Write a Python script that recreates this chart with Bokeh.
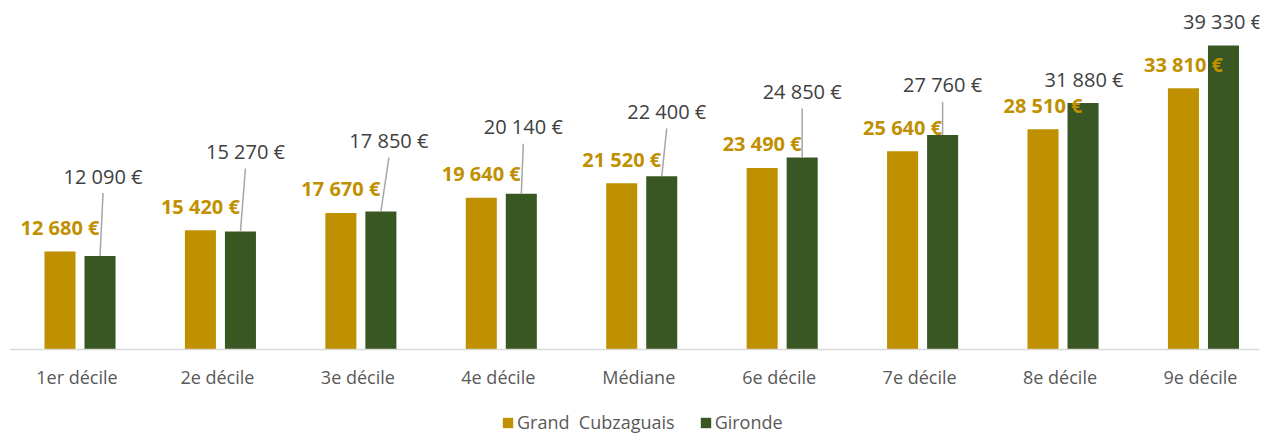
from bokeh.plotting import figure
from bokeh.models import ColumnDataSource, Range1d, Span, Legend, LegendItem
from bokeh.core.properties import value
from bokeh.embed import file_html
from bokeh.resources import INLINE

categories = ["1er décile", "2e décile", "3e décile", "4e décile", "Médiane",
              "6e décile", "7e décile", "8e décile", "9e décile"]
grand_cubzaguais = [12680, 15420, 17670, 19640, 21520, 23490, 25640, 28510, 33810]
gironde = [12090, 15270, 17850, 20140, 22400, 24850, 27760, 31880, 39330]

# label placement (pixels above bar top / horizontal shift) for the Gironde labels
gironde_label_dy = [80, 80, 71, 67, 65, 66, 50, 24, 24]
gironde_label_dx = [3, 5, 8, 2, 5, 0, 0, 1, -1]

GOLD = "#bf9000"
GREEN = "#385723"
FONT = "Open Sans"

W, H = 1272, 434
BL, BR, BT = 9, 13, 8
FRAME_W = W - BL - BR          # 1250
FRAME_H = H - BT               # 426
AXIS_PX = 341                  # pixels from frame top down to the value-axis baseline
X0, X1 = -0.502, 8.399
px_per_y = AXIS_PX / 44120.0
Y1 = 44120.0
Y0 = -(FRAME_H - AXIS_PX) / px_per_y
px_per_x = FRAME_W / (X1 - X0)

BAR_OFF = 0.1425
BAR_W = 0.221


def fmt(v):
    return f"{v:,}".replace(",", " ") + " €"


idx = list(range(len(categories)))
src = ColumnDataSource(dict(
    xg=[i - BAR_OFF for i in idx],
    xr=[i + BAR_OFF for i in idx],
    gc=grand_cubzaguais,
    gi=gironde,
    gc_lbl=[fmt(v) for v in grand_cubzaguais],
    gi_lbl=[fmt(v) for v in gironde],
    gi_dx=gironde_label_dx,
    gi_dy=[-d for d in gironde_label_dy],
))

p = figure(width=W, height=H,
           x_range=Range1d(X0, X1), y_range=Range1d(Y0, Y1),
           output_backend="svg", toolbar_location=None,
           min_border_left=BL, min_border_right=BR, min_border_top=BT, min_border_bottom=0)
p.outline_line_color = None
p.background_fill_color = "white"
p.border_fill_color = "white"
p.xgrid.visible = False
p.ygrid.visible = False
p.xaxis.visible = False
p.yaxis.visible = False

# category axis: baseline + labels
p.add_layout(Span(location=0, dimension="width", line_color="#d9d9d9", line_width=1.5))
p.text(x=idx, y=[0] * len(idx), text=categories, y_offset=27, x_offset=-3,
       text_align="center", text_baseline="middle",
       text_font=value(FONT), text_font_size="18px", text_color="#595959")

r_gc = p.vbar(x="xg", top="gc", width=BAR_W, source=src, fill_color=GOLD, line_color=None)
r_gi = p.vbar(x="xr", top="gi", width=BAR_W, source=src, fill_color=GREEN, line_color=None)

# leader lines for the Gironde labels moved away from their bars
lx0, ly0, lx1, ly1 = [], [], [], []
for i, v, dx, dy in zip(idx, gironde, gironde_label_dx, gironde_label_dy):
    if dy > 30:
        lx0.append(i + BAR_OFF)
        ly0.append(v)
        lx1.append(i + BAR_OFF + dx / px_per_x)
        ly1.append(v + (dy - 17) / px_per_y)
p.segment(x0=lx0, y0=ly0, x1=lx1, y1=ly1, line_color="#a6a6a6", line_width=1.5)

p.text(x="xg", y="gc", text="gc_lbl", source=src, y_offset=-24,
       text_align="center", text_baseline="middle",
       text_font=value(FONT), text_font_style="bold", text_font_size="20px",
       text_color=GOLD)
p.text(x="xr", y="gi", text="gi_lbl", source=src, x_offset="gi_dx", y_offset="gi_dy",
       text_align="center", text_baseline="middle",
       text_font=value(FONT), text_font_size="20px", text_color="#404040")

legend = Legend(items=[LegendItem(label="Grand  Cubzaguais", renderers=[r_gc]),
                       LegendItem(label="Gironde", renderers=[r_gi])],
                orientation="horizontal", location=(492, 0))
legend.label_text_font = FONT
legend.label_text_font_size = "18px"
legend.label_text_color = "#595959"
legend.glyph_width = 13
legend.glyph_height = 13
legend.label_standoff = 3
legend.spacing = 24
legend.padding = 0
legend.margin = 0
legend.border_line_color = None
legend.background_fill_alpha = 0
p.add_layout(legend, "center")

open("out.html", "w").write(file_html(p, INLINE))
